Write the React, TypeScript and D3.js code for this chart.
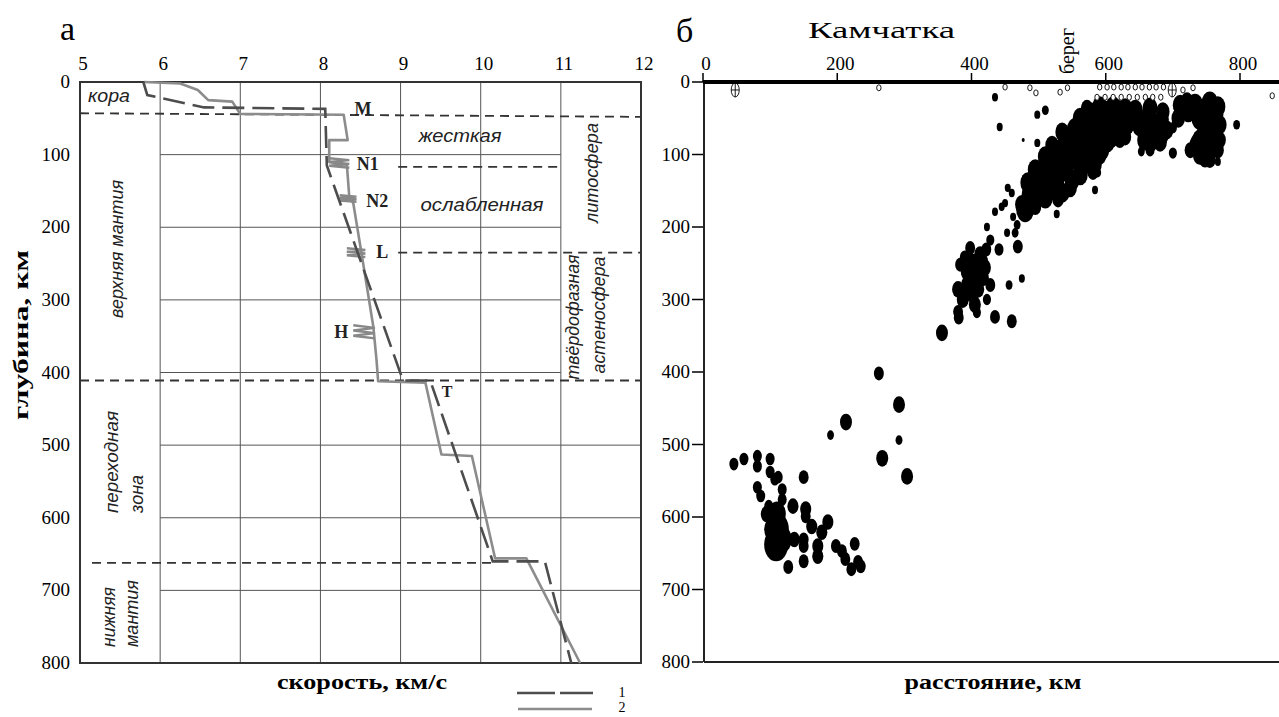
import React from 'react';
import * as d3 from 'd3';

const W = 1279;
const H = 717;
const serif = "'Liberation Serif', 'Times New Roman', serif";
const sans = "'Liberation Sans', Arial, sans-serif";

// ---------- panel a: velocity profiles ----------
const velTicks = [5, 6, 7, 8, 9, 10, 11, 12];
const depthTicks = [0, 100, 200, 300, 400, 500, 600, 700, 800];
const gridVel = [6, 7, 8, 9, 10, 11];

// curve 1 (dashed)
const curve1 = [
  [5.79, 0], [5.84, 18], [6.55, 35], [8.06, 37], [8.08, 115], [9.03, 411],
  [9.37, 411], [10.15, 660], [10.8, 660], [11.13, 800],
];
// curve 2 (solid)
const curve2 = [
  [5.8, 0], [6.25, 2], [6.47, 11], [6.6, 25], [6.9, 27], [7.0, 44], [8.29, 45],
  [8.34, 80], [8.11, 80], [8.11, 110], [8.33, 114], [8.36, 158], [8.41, 167],
  [8.51, 234], [8.66, 337], [8.7, 383], [8.72, 412], [9.31, 414], [9.51, 513],
  [9.89, 515], [10.18, 656], [10.57, 656], [11.24, 800],
];
// zig-zag marks on curve 2: [top depth, bottom depth, v min, v max]
const marks = [
  [105, 118, 8.11, 8.36],
  [156, 165, 8.24, 8.45],
  [229, 241, 8.33, 8.56],
  [335, 353, 8.41, 8.68],
];
// boundary dashed lines: [v0, v1, depth0, depth1]
const boundaries = [
  [5, 12, 43, 48],
  [8.97, 11, 117, 117],
  [8.97, 12, 235, 235],
  [5, 12, 411, 411],
  [5.15, 10.2, 662, 662],
];
// boundary names: [text, v, depth]
const boundaryNames = [
  ['M', 8.53, 45], ['N1', 8.59, 121], ['N2', 8.71, 172],
  ['L', 8.77, 242], ['H', 8.26, 352], ['T', 9.58, 434],
];

// ---------- panel б: Kamchatka seismicity ----------
const distTicks = [0, 200, 400, 600, 800];
const depthTicks2 = [0, 100, 200, 300, 400, 500, 600, 700, 800];

// [distance km, depth km, size]
const deepEvents = [
  [262, 402, 3.3], [292, 445, 4], [213, 469, 4], [190, 487, 2.3], [292, 494, 2.3],
  [267, 519, 4], [304, 544, 4], [150, 545, 3.3],
  [46, 527, 3], [61, 520, 3], [81, 516, 3], [81, 530, 3], [100, 520, 3],
  [100, 538, 3], [107, 548, 3], [112, 545, 3], [81, 559, 3], [86, 571, 3],
  [118, 562, 3], [118, 576, 3], [98, 585, 3],
  [110, 596, 6], [110, 617, 8], [109, 638, 8], [103, 617, 5.3], [95, 596, 4], [119, 631, 6],
  [134, 585, 3.7], [136, 631, 3.7], [127, 669, 3.3], [150, 631, 3.3], [150, 640, 3.3],
  [150, 661, 3.3], [153, 589, 3.7], [153, 599, 3.3], [162, 613, 3.7], [171, 640, 3.7],
  [171, 654, 3.7], [177, 621, 3.7], [186, 607, 3.7], [198, 640, 3.3], [207, 647, 3.3],
  [212, 658, 3.3], [221, 672, 3.3], [226, 637, 3.3], [235, 668, 3.3], [231, 662, 3.3],
];
const midEvents = [
  [428, 218, 2.7], [422, 231, 3.3], [413, 238, 4], [401, 248, 4], [390, 242, 3.3],
  [383, 252, 3.3], [420, 256, 4], [405, 266, 4.7], [395, 280, 4.7], [380, 286, 4],
  [410, 286, 4], [428, 280, 3.3], [387, 300, 4], [405, 307, 4], [423, 300, 2.7],
  [380, 317, 3.3], [408, 318, 2.7], [381, 325, 3.3], [356, 346, 4], [435, 324, 3.3],
  [460, 330, 3.3], [398, 229, 3.3], [416, 248, 4], [393, 262, 4], [401, 293, 4], [417, 270, 4],
  [475, 271, 2], [456, 280, 2.3], [469, 227, 3.3], [441, 231, 3],
  [423, 200, 2], [453, 208, 2], [465, 208, 2.3], [468, 197, 2.3], [462, 186, 2],
  [435, 179, 2], [450, 167, 2], [445, 172, 2], [460, 153, 2], [454, 146, 2],
  [527, 182, 2], [584, 149, 2], [588, 125, 2.3],
];
const shallowEvents = [
  [487, 156, 5.5], [510, 160, 5], [529, 162, 3.8], [475, 169, 4.5], [495, 172, 4],
  [498, 149, 5], [517, 149, 5], [536, 153, 4.5],
  [484, 139, 5], [505, 138, 5.5], [526, 142, 5.5], [547, 146, 4.5],
  [505, 129, 5], [527, 131, 5.5], [550, 135, 5],
  [495, 121, 5], [517, 118, 5.5], [539, 121, 5.5], [562, 128, 5], [581, 124, 3.8],
  [520, 112, 5], [542, 112, 5.5], [565, 114, 5.5], [584, 114, 4.5],
  [510, 103, 5], [532, 101, 5.5], [554, 105, 5.5], [577, 107, 5], [591, 101, 4.5],
  [529, 94, 5], [551, 94, 5.5], [574, 96, 5.5], [594, 94, 5],
  [520, 87, 4.5], [541, 83, 5.5], [563, 85, 5.5], [584, 88, 5], [603, 84, 4.5], [621, 80, 3.8],
  [548, 76, 5], [569, 77, 5.5], [588, 77, 5.5], [609, 76, 5], [629, 76, 4],
  [535, 69, 4.5], [554, 66, 5.5], [577, 67, 5.5], [599, 70, 5.5], [618, 66, 5], [633, 62, 3.8],
  [569, 58, 5], [591, 58, 5.5], [611, 58, 5.5], [629, 55, 4.5],
  [562, 50, 5], [581, 48, 5.5], [602, 50, 5.5], [621, 48, 5], [636, 45, 3.8],
  [577, 41, 4.5], [599, 40, 5], [618, 39, 5], [633, 39, 4],
  [572, 36, 4], [591, 34, 5], [611, 34, 5], [629, 36, 4.7],
  [480, 176, 6],
  [644, 39, 5], [666, 36, 5], [685, 41, 4.5], [651, 59, 5.5], [673, 59, 5.5],
  [691, 66, 4.5], [658, 80, 5], [681, 83, 4.5], [666, 94, 3], [653, 96, 2.3],
  [644, 50, 5], [663, 48, 5], [684, 52, 4.5], [660, 69, 5], [684, 73, 4.5], [669, 84, 4],
  [711, 32, 5], [708, 50, 4.5], [721, 25, 3.8], [733, 32, 5.5], [755, 29, 5.5],
  [763, 45, 5.5], [740, 50, 5.5], [748, 69, 5.5], [763, 66, 5], [737, 87, 5.5],
  [755, 89, 5.5], [748, 105, 4.5], [726, 94, 3.8], [770, 80, 4],
  [723, 41, 5], [745, 39, 5.5], [767, 34, 5], [752, 52, 5.5], [770, 59, 4.5],
  [740, 80, 5], [767, 94, 4], [740, 101, 4.5], [755, 107, 4],
  [700, 63, 2.7], [700, 98, 2.7], [795, 59, 2.3], [767, 110, 2], [435, 21, 2],
  [442, 62, 2], [498, 45, 2], [510, 39, 2.3], [498, 84, 2], [477, 80, 1],
];
// open symbols near the surface [distance, depth]
const surfaceMarks = [
  [262, 8], [450, 7], [487, 8], [496, 15], [532, 14], [543, 8],
  [591, 7], [602, 7], [612, 7], [623, 7], [633, 7], [644, 7], [654, 7], [665, 7], [675, 7], [686, 7],
  [587, 21], [599, 21], [611, 21], [623, 21], [635, 21], [647, 21], [659, 21], [670, 21], [682, 21],
  [715, 11], [730, 8], [848, 19],
];
const crossedMarks = [[48, 11], [699, 11]];

const vx = d3.scaleLinear().domain([5, 12]).range([80, 641]);
const dy = d3.scaleLinear().domain([0, 800]).range([82, 663]);
const kx = d3.scaleLinear().domain([0, 800]).range([703, 1240]);
const ky = d3.scaleLinear().domain([0, 800]).range([82, 662]);
const rScale = d3.scaleLinear().domain([1, 6]).range([1.5, 9]);

const profileLine = d3.line<number[]>().x(d => vx(d[0])).y(d => dy(d[1]));

const zigzag = (m: number[]) => {
  const [d0, d1, a, b] = m;
  const pts: number[][] = [];
  for (let i = 0; i <= 5; i++) pts.push([i % 2 ? b : a, d0 + ((d1 - d0) * i) / 5]);
  return profileLine(pts) as string;
};

const Events = ({ data }: { data: number[][] }) => (
  <g fill="#000">
    {data.map((d, i) => (
      <ellipse key={i} cx={kx(d[0])} cy={ky(d[1])} rx={rScale(d[2])} ry={rScale(d[2]) * 1.4} />
    ))}
  </g>
);

const VText = ({ x, y, text, len, anchor = 'middle' }: any) => (
  <text
    transform={`translate(${x},${y}) rotate(-90)`}
    textAnchor={anchor}
    fontFamily={sans}
    fontStyle="italic"
    fontSize={19}
    fill="#222"
    textLength={len}
    lengthAdjust="spacingAndGlyphs"
  >
    {text}
  </text>
);

export default function App() {
  return (
    <svg
      width={W}
      height={H}
      viewBox={`0 0 ${W} ${H}`}
      style={{ position: 'absolute', left: 0, top: 0, background: '#fff' }}
    >
      {/* ===== panel a ===== */}
      <text x={60} y={40} fontFamily={serif} fontSize={34}>а</text>

      {gridVel.map(v => (
        <line key={v} x1={vx(v)} x2={vx(v)} y1={dy(0)} y2={dy(800)} stroke="#555" strokeWidth={1} />
      ))}
      {depthTicks.filter(d => d > 0 && d < 800).map(d => (
        <line key={d} x1={vx(6)} x2={vx(d <= 400 ? 11 : 12)} y1={dy(d)} y2={dy(d)} stroke="#555" strokeWidth={1} />
      ))}
      <rect x={vx(5)} y={dy(0)} width={vx(12) - vx(5)} height={dy(800) - dy(0)} fill="none" stroke="#333" strokeWidth={2} />

      {velTicks.map(v => (
        <text key={v} x={vx(v) + 3} y={70} textAnchor="middle" fontFamily={serif} fontSize={19}>{v}</text>
      ))}
      {depthTicks.map(d => (
        <text key={d} x={70} y={dy(d) + 6} textAnchor="end" fontFamily={serif} fontSize={19}>{d}</text>
      ))}

      {boundaries.map((b, i) => (
        <line key={i} x1={vx(b[0])} x2={vx(b[1])} y1={dy(b[2])} y2={dy(b[3])}
          stroke="#333" strokeWidth={1.8} strokeDasharray="9,6" />
      ))}

      <path d={profileLine(curve2) as string} fill="none" stroke="#8c8c8c" strokeWidth={2.6} strokeLinejoin="round" />
      {marks.map((m, i) => (
        <path key={i} d={zigzag(m)} fill="none" stroke="#888" strokeWidth={2.4} />
      ))}
      <path d={profileLine(curve1) as string} fill="none" stroke="#4d4d4d" strokeWidth={2.6} strokeDasharray="22,8" />

      {boundaryNames.map(([t, v, d]) => (
        <text key={t as string} x={vx(v as number)} y={dy(d as number)} textAnchor="middle"
          fontFamily={serif} fontWeight="bold" fontSize={t === 'T' ? 16 : 18} fill="#222">{t}</text>
      ))}

      <text x={109} y={102} textAnchor="middle" fontFamily={sans} fontStyle="italic" fontSize={19} fill="#222" textLength={42} lengthAdjust="spacingAndGlyphs">кора</text>
      <text x={460} y={142} textAnchor="middle" fontFamily={sans} fontStyle="italic" fontSize={19} fill="#222" textLength={83} lengthAdjust="spacingAndGlyphs">жесткая</text>
      <text x={482} y={211} textAnchor="middle" fontFamily={sans} fontStyle="italic" fontSize={19} fill="#222" textLength={123} lengthAdjust="spacingAndGlyphs">ослабленная</text>
      <VText x={123} y={249} text="верхняя мантия" len={138} />
      <VText x={118} y={513} text="переходная" len={102} anchor="start" />
      <VText x={143} y={513} text="зона" len={38} anchor="start" />
      <VText x={115} y={647} text="нижняя" len={60} anchor="start" />
      <VText x={138} y={647} text="мантия" len={67} anchor="start" />
      <VText x={598} y={173} text="литосфера" len={100} />
      <VText x={579} y={317} text="твёрдофазная" len={125} />
      <VText x={605} y={315} text="астеносфера" len={117} />

      <text transform="translate(28,335) rotate(-90)" textAnchor="middle" fontFamily={serif} fontWeight="bold"
        fontSize={20} textLength={170} lengthAdjust="spacingAndGlyphs">глубина, км</text>
      <text x={362} y={689} textAnchor="middle" fontFamily={serif} fontWeight="bold" fontSize={20}
        textLength={170} lengthAdjust="spacingAndGlyphs">скорость, км/с</text>

      {/* legend */}
      <line x1={517} x2={593} y1={693} y2={693} stroke="#4d4d4d" strokeWidth={2.6} strokeDasharray="38,5" />
      <line x1={518} x2={592} y1={709} y2={709} stroke="#8c8c8c" strokeWidth={2.6} />
      <text x={622} y={697} textAnchor="middle" fontFamily={serif} fontSize={14}>1</text>
      <text x={622} y={712} textAnchor="middle" fontFamily={serif} fontSize={14}>2</text>

      {/* ===== panel б ===== */}
      <text x={676} y={42} fontFamily={serif} fontSize={34}>б</text>
      <text x={808} y={38} fontFamily={serif} fontSize={24} textLength={147} lengthAdjust="spacingAndGlyphs">Камчатка</text>
      <text transform="translate(1074,74) rotate(-90)" fontFamily={serif} fontSize={20}>берег</text>

      <Events data={deepEvents} />
      <Events data={midEvents} />
      <Events data={shallowEvents} />
      <g fill="#fff" stroke="#000" strokeWidth={0.9}>
        {surfaceMarks.map((d, i) => (
          <ellipse key={i} cx={kx(d[0])} cy={ky(d[1])} rx={2.2} ry={3} />
        ))}
        {crossedMarks.map((d, i) => (
          <g key={i}>
            <ellipse cx={kx(d[0])} cy={ky(d[1])} rx={4} ry={7} />
            <line x1={kx(d[0]) - 4} x2={kx(d[0]) + 4} y1={ky(d[1])} y2={ky(d[1])} />
            <line x1={kx(d[0])} x2={kx(d[0])} y1={ky(d[1]) - 7} y2={ky(d[1]) + 7} />
          </g>
        ))}
      </g>

      <line x1={kx(0) + 1} x2={kx(0) + 1} y1={ky(0)} y2={ky(800)} stroke="#222" strokeWidth={2} />
      <line x1={kx(0) + 1} x2={W} y1={ky(800)} y2={ky(800)} stroke="#222" strokeWidth={2} />
      <line x1={kx(0)} x2={W} y1={ky(0)} y2={ky(0)} stroke="#000" strokeWidth={4} />
      {distTicks.map(t => (
        <g key={t}>
          <line x1={kx(t)} x2={kx(t)} y1={ky(0)} y2={ky(0) - 9} stroke="#000" strokeWidth={1.5} />
          <text x={kx(t) + 3} y={70} textAnchor="middle" fontFamily={serif} fontSize={19}>{t}</text>
        </g>
      ))}
      {depthTicks2.map(t => (
        <g key={t}>
          <line x1={kx(0) - 11} x2={kx(0)} y1={ky(t)} y2={ky(t)} stroke="#000" strokeWidth={1.5} />
          <text x={690} y={ky(t) + 6} textAnchor="end" fontFamily={serif} fontSize={19}>{t}</text>
        </g>
      ))}
      <text x={993} y={689} textAnchor="middle" fontFamily={serif} fontWeight="bold" fontSize={20}
        textLength={177} lengthAdjust="spacingAndGlyphs">расстояние, км</text>
    </svg>
  );
}
